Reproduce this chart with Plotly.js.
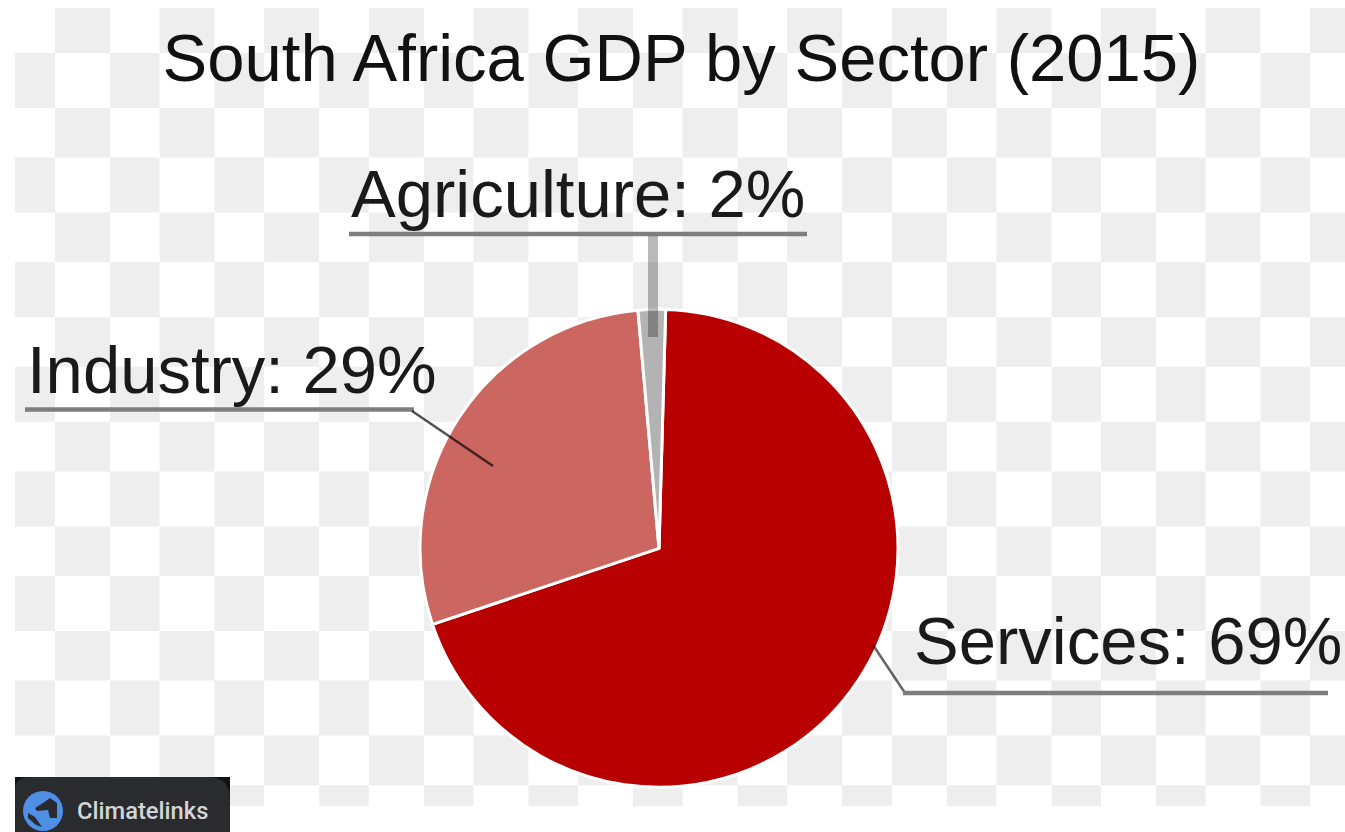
<!DOCTYPE html>
<html><head><meta charset="utf-8">
<script src="https://cdn.plot.ly/plotly-3.0.1.min.js"></script>
<style>html,body{margin:0;padding:0;background:#fff}#c{width:1345px;height:832px}</style>
</head><body><div id="c"></div>
<script>
const chartTitle = 'South Africa GDP by Sector (2015)';
const sectors = ['Services', 'Industry', 'Agriculture'];
const shares = [69.4, 28.75, 1.85];
const sliceColors = ['#B80000', '#CC6660', '#B3B3B3'];
const badgeText = 'Climatelinks';

const W = 1345, H = 832;
const px = x => x / W, py = y => 1 - y / H;

// checker backdrop edges
const xEdges = [15,55,110,159.6,214.6,264.2,319.2,368.8,423.8,473.4,528.4,578,633,682.6,737.6,787.2,842.2,891.8,946.8,996.4,1051.4,1101,1156,1205.6,1260.6,1310.2,1345];
const yEdges = [8,53,108,157.6,212.6,262.2,317.2,366.8,421.8,471.4,526.4,576,631,680.6,735.6,785.2,806];

const shapes = [];
for (let r = 0; r < yEdges.length - 1; r++) {
  for (let c = 0; c < xEdges.length - 1; c++) {
    if ((r + c) % 2 === 1) {
      shapes.push({type:'rect', xref:'paper', yref:'paper', layer:'below',
        x0:px(xEdges[c]), x1:px(xEdges[c+1]), y0:py(yEdges[r]), y1:py(yEdges[r+1]),
        fillcolor:'#EEEEEE', line:{width:0}});
    }
  }
}
const pathOf = pts => pts.map((p,i)=>(i?'L':'M')+px(p[0])+','+py(p[1])).join(' ');
const leader = (pts, width, color) => ({type:'path', xref:'paper', yref:'paper', layer:'above',
  path:pathOf(pts), line:{color, width}, fillcolor:'rgba(0,0,0,0)'});
shapes.push(leader([[349,234],[807,234]], 4.5, '#7E7E7E'));
shapes.push(leader([[653,236],[653,337]], 10, 'rgba(0,0,0,0.27)'));
shapes.push(leader([[25,409.5],[414,409.5]], 4.5, '#7E7E7E'));
shapes.push(leader([[412,411],[493,466]], 2.5, 'rgba(0,0,0,0.68)'));
shapes.push(leader([[873,645],[905,693]], 2.5, 'rgba(0,0,0,0.6)'));
shapes.push(leader([[903,693],[1328,693]], 4.5, '#7E7E7E'));

// badge
shapes.push({type:'rect', xref:'paper', yref:'paper', layer:'above',
  x0:px(15), x1:px(230), y0:py(777), y1:py(832), fillcolor:'#111215', line:{width:0}});
shapes.push({type:'path', xref:'paper', yref:'paper', layer:'above',
  path:`M${px(15)},${py(832)} L${px(15)},${py(790)} Q${px(15)},${py(777)} ${px(30)},${py(777)} L${px(208)},${py(777)} Q${px(230)},${py(777)} ${px(230)},${py(800)} L${px(230)},${py(832)} Z`,
  fillcolor:'#2A2B2F', line:{width:0}});
shapes.push({type:'circle', xref:'paper', yref:'paper', layer:'above',
  x0:px(23), x1:px(63), y0:py(791), y1:py(831), fillcolor:'#4F8FE6', line:{width:0}});
shapes.push({type:'path', xref:'paper', yref:'paper', layer:'above',
  path:pathOf([[35,808],[43,803],[50,798],[57,803],[57,818],[50,818],[48,810],[37,811]])+' Z',
  fillcolor:'#2A2B2F', line:{width:0}});
shapes.push({type:'path', xref:'paper', yref:'paper', layer:'above',
  path:pathOf([[28,813],[35,817],[42,827],[36,825],[28,818]])+' Z',
  fillcolor:'#2A2B2F', line:{width:0}});

const labelFont = {family:'"Liberation Sans", Arial, sans-serif', size:67, color:'#1A1A1A'};
const labelAnchors = [[1128,640],[232,369],[578,193]];
const annotations = sectors.map((s,i)=>({
  xref:'paper', yref:'paper', x:px(labelAnchors[i][0]), y:py(labelAnchors[i][1]),
  xanchor:'center', yanchor:'middle', showarrow:false,
  text:`${s}: ${Math.round(shares[i])}%`, font:labelFont
}));
annotations.push({xref:'paper', yref:'paper', x:px(75), y:py(811), xanchor:'left', yanchor:'middle',
  showarrow:false, text:badgeText, font:{family:'Roboto, sans-serif', size:23.7, weight:500, color:'#D4D5D7'}});

const R = 239, cx = 659, cy = 548.3;
Plotly.newPlot('c', [{
  type:'pie', labels:sectors, values:shares, sort:false, direction:'clockwise', rotation:1.6,
  textinfo:'none', hoverinfo:'label+percent', automargin:false,
  marker:{colors:sliceColors, line:{color:'#FFFFFF', width:3}},
  domain:{x:[px(cx-R), px(cx+R)], y:[py(cy+R), py(cy-R)]}
}], {
  width:W, height:H, margin:{l:0,r:0,t:0,b:0}, paper_bgcolor:'#FFFFFF', showlegend:false,
  title:{text:chartTitle, x:px(681.5), xanchor:'center', y:py(58), yanchor:'middle',
    font:{family:'"Liberation Sans", Arial, sans-serif', size:67, color:'#111111'}},
  shapes, annotations
}, {displayModeBar:false, responsive:false});
</script></body></html>
